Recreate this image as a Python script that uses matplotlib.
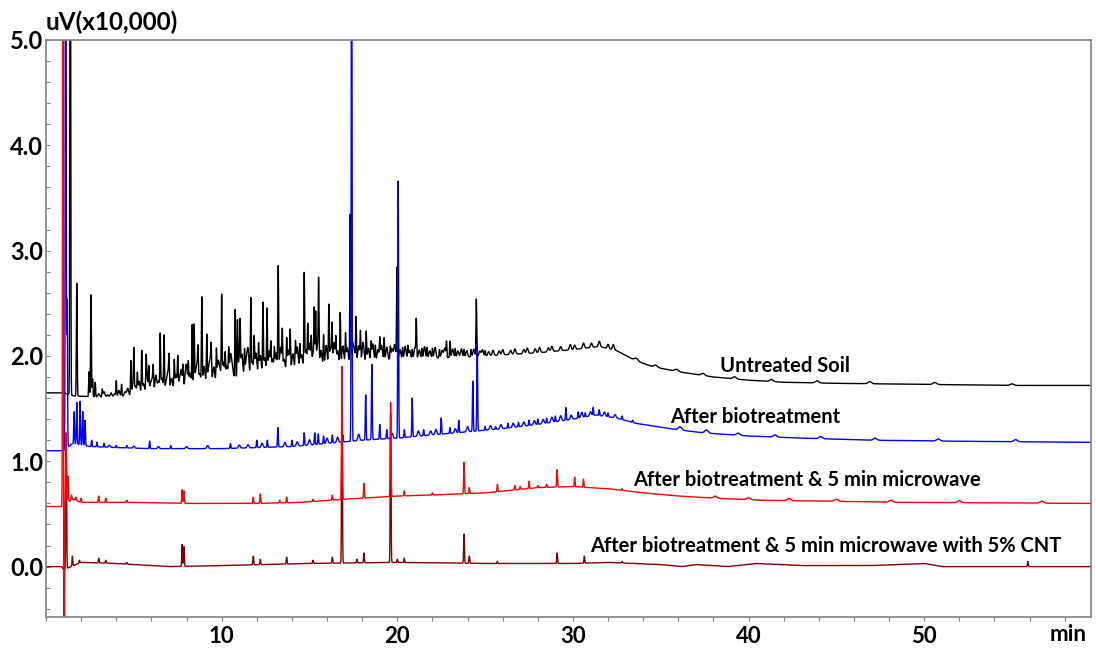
import numpy as np
import matplotlib
matplotlib.use('Agg')
import matplotlib.pyplot as plt
from matplotlib.ticker import MultipleLocator, FormatStrFormatter

plt.rcParams['font.family'] = ['Lato', 'DejaVu Sans']

# retention time grid (min)
t = np.linspace(0, 59.5, 11901)

# ---- Untreated Soil (black) ----
soil_base_t = [0, 1.0, 1.6, 3, 4, 5, 6, 8, 10, 12, 14, 16, 18, 20, 22, 24, 26, 28, 30,
               31.5, 32.5, 33.5, 34.5, 36, 38, 40, 42, 45, 50, 55, 59.5]
soil_base_v = [1.65, 1.65, 1.62, 1.61, 1.61, 1.63, 1.66, 1.71, 1.77, 1.83, 1.88, 1.92, 1.95,
               1.97, 1.98, 1.99, 2.01, 2.03, 2.06, 2.09, 2.05, 1.96, 1.90, 1.85, 1.80, 1.77,
               1.75, 1.74, 1.73, 1.72, 1.72]
soil_pk_t = [1.38, 1.75, 2.45, 2.56, 2.65, 2.8, 3.2, 4.0, 4.3, 4.83, 5.0, 5.2, 5.45, 5.7,
             5.85, 6.1, 6.5, 6.72, 7.0, 7.3, 7.5, 7.8, 8.1, 8.32, 8.43, 8.65, 8.87, 9.15,
             9.4, 9.7, 10.0, 10.2, 10.4, 10.77, 10.9, 11.05, 11.3, 11.66, 11.85, 12.1, 12.35,
             12.58, 12.8, 13.0, 13.22, 13.45, 13.7, 13.9, 14.2, 14.45, 14.7, 14.9, 15.1,
             15.27, 15.35, 15.52, 15.8, 16.1, 16.28, 16.5, 16.75, 17.05, 17.32, 17.65, 17.9,
             18.23, 18.5, 18.75, 19.0, 19.25, 19.6, 19.98, 20.3, 20.6, 20.85, 21.08, 21.4,
             21.7, 22.0, 22.4, 22.8, 23.0, 23.3, 23.8, 24.2, 24.5, 25.0]
soil_pk_v = [8.0, 2.69, 1.85, 2.58, 1.78, 1.75, 1.68, 1.76, 1.73, 1.95, 2.01, 1.82, 2.04, 1.93,
             1.88, 1.85, 2.19, 2.19, 1.93, 1.95, 1.98, 1.90, 1.92, 2.29, 2.27, 1.98, 2.55, 2.19,
             2.00, 2.05, 2.55, 2.00, 2.04, 2.44, 2.32, 2.22, 2.05, 2.53, 2.15, 2.10, 2.49,
             2.44, 2.10, 2.05, 2.84, 2.22, 2.15, 2.23, 2.12, 2.10, 2.77, 2.26, 2.15,
             2.42, 2.40, 2.67, 2.20, 2.47, 2.27, 2.15, 2.41, 2.20, 3.34, 2.36, 2.22,
             2.23, 2.12, 2.10, 2.15, 2.17, 2.08, 2.84, 2.08, 2.09, 2.06, 2.33, 2.07,
             2.08, 2.07, 2.06, 2.13, 2.14, 2.07, 2.06, 2.06, 2.54, 2.05]
soil_grass_t = [3.0, 3.3, 3.5, 3.7, 3.9, 4.15, 4.5, 4.65, 4.95, 5.1, 5.3, 5.55, 5.75, 5.95, 6.05,
                6.25, 6.4, 6.6, 6.85, 6.95, 7.15, 7.4, 7.6, 7.7, 7.95, 8.0, 8.2, 8.5, 8.6, 8.75,
                9.0, 9.25, 9.35, 9.55, 9.8, 9.9, 10.1, 10.3, 10.5, 10.6, 11.0, 11.15, 11.4, 11.5,
                11.75, 11.95, 12.2, 12.45, 12.7, 12.9, 13.1, 13.35, 13.55, 13.8, 14.05, 14.3,
                14.55, 14.8, 15.0, 15.2, 15.45, 15.65, 15.95, 16.2, 16.4, 16.6, 16.9, 17.15,
                17.45, 17.55, 17.8, 18.05, 18.35, 18.6, 18.9, 19.1, 19.4, 19.7, 19.85, 20.15,
                20.45, 20.7, 21.0, 21.25, 21.55, 21.85, 22.15, 22.55, 22.7, 23.15, 23.45, 23.65,
                23.95, 24.35, 24.7, 24.85, 25.2, 25.45, 25.8, 26.0, 26.45, 26.7, 27.2, 27.4,
                27.85, 28.1, 28.6, 28.8, 29.3, 29.85, 30.1, 30.6, 31.05, 31.5, 32.0, 32.3]
soil_grass_h = [.03, .05, .02, .04, .03, .06, .04, .07, .10, .08, .12, .09, .14, .07, .11,
                .15, .09, .12, .08, .15, .10, .13, .07, .16, .10, .14, .12, .09, .18, .10,
                .16, .12, .20, .14, .18, .10, .17, .13, .22, .12, .18, .21, .15, .24,
                .12, .20, .17, .14, .20, .12, .17, .22, .10, .18, .14, .20,
                .12, .16, .22, .12, .19, .14, .18, .15, .20, .12, .16, .14,
                .17, .10, .15, .18, .12, .16, .10, .14, .12, .10, .14, .09,
                .12, .08, .10, .08, .11, .07, .10, .07, .09, .08, .06, .08,
                .06, .07, .05, .06, .04, .05, .04, .05, .04, .05, .04, .05,
                .04, .05, .04, .05, .04, .05, .04, .05, .04, .05, .04, .05]
soil_bump_t = [33.6, 34.7, 35.9, 37.4, 39.2, 41.3, 43.9, 46.9, 50.6, 55.0]
soil_bump_h = [0.025, 0.02, 0.02, 0.02, 0.02, 0.02, 0.02, 0.02, 0.02, 0.015]

# ---- After biotreatment (blue) ----
bio_base_t = [0, 1.0, 1.5, 2.5, 4, 6, 8, 10, 12, 14, 16, 18, 20, 22, 24, 26, 28, 30, 31.3,
              32.5, 33.6, 35.5, 37.4, 40, 43, 47, 52, 59.5]
bio_base_v = [1.10, 1.10, 1.17, 1.14, 1.13, 1.12, 1.12, 1.12, 1.13, 1.14, 1.17, 1.20, 1.22,
              1.25, 1.28, 1.31, 1.35, 1.40, 1.44, 1.41, 1.36, 1.31, 1.27, 1.24, 1.22, 1.20,
              1.19, 1.18]
bio_pk_t = [1.12, 1.2, 1.6, 1.75, 1.94, 2.09, 2.22, 2.6, 2.9, 3.3, 4.0, 4.6, 5.9, 7.1, 10.5,
            12.0, 12.6, 13.2, 14.0, 14.7, 15.3, 15.5, 15.8, 16.3, 16.9, 17.4, 18.2, 18.55,
            19.0, 19.4, 20.05, 20.4, 20.85, 21.5, 22.5, 23.0, 23.5, 24.3, 24.55, 25.0, 25.6,
            26.3, 26.9, 27.5, 28.0, 28.5, 29.0, 29.6, 30.3, 30.7, 31.15, 31.5, 32.0, 32.8,
            33.4]
bio_pk_v = [9.0, 2.53, 1.47, 1.56, 1.57, 1.47, 1.39, 1.20, 1.18, 1.17, 1.15, 1.15, 1.19, 1.15,
            1.17, 1.20, 1.20, 1.32, 1.20, 1.27, 1.27, 1.26, 1.24, 1.25, 1.25, 7.0, 1.63, 1.92,
            1.35, 1.30, 3.66, 1.30, 1.60, 1.30, 1.41, 1.32, 1.39, 1.76, 2.12, 1.33, 1.33,
            1.36, 1.37, 1.39, 1.40, 1.41, 1.43, 1.51, 1.47, 1.46, 1.51, 1.49, 1.46, 1.43,
            1.39]
bio_grass_t = [3.6, 5.0, 6.4, 8.0, 9.2, 11.0, 11.5, 12.3, 13.6, 14.3, 15.0, 16.0, 16.6, 17.8,
               19.7, 21.2, 21.9, 22.2, 23.3, 24.0, 25.3, 25.9, 26.6, 27.2, 27.8, 28.3, 28.8,
               29.3, 29.9, 30.5, 31.0, 31.8, 32.4]
bio_grass_h = [.02, .02, .02, .02, .03, .03, .03, .04, .04, .04, .05, .05, .05, .06,
               .05, .05, .04, .05, .04, .05, .04, .04, .04, .04, .04, .04, .05,
               .05, .04, .05, .04, .04, .03]
bio_bump_t = [36.1, 37.6, 39.4, 41.5, 44.1, 47.2, 50.8, 55.2]
bio_bump_h = [0.03, 0.03, 0.02, 0.02, 0.02, 0.02, 0.02, 0.02]

# ---- After biotreatment & 5 min microwave (red) ----
mw_base_t = [0, 0.9, 1.5, 2, 5, 8, 10, 12, 14.5, 17, 20, 22, 25, 28, 30, 32, 34, 36, 38,
             40.7, 45, 48.7, 59.5]
mw_base_v = [0.57, 0.57, 0.64, 0.61, 0.61, 0.60, 0.60, 0.60, 0.61, 0.64, 0.67, 0.68, 0.70,
             0.75, 0.76, 0.74, 0.70, 0.67, 0.65, 0.63, 0.62, 0.61, 0.60]
mw_pk_t = [0.97, 1.02, 1.14, 1.25, 1.45, 1.7, 2.0, 3.0, 3.4, 4.6, 7.75, 7.85, 11.8, 12.2,
           13.3, 13.7, 15.2, 16.3, 16.85, 18.1, 19.62, 20.4, 22.0, 23.8, 24.1, 25.7, 26.7,
           27.0, 27.5, 28.0, 28.5, 29.1, 30.1, 30.6, 32.8]
mw_pk_v = [9.0, -3.0, 1.27, 0.86, 0.68, 0.66, 0.65, 0.67, 0.65, 0.63, 0.73, 0.72, 0.66, 0.69,
           0.63, 0.66, 0.64, 0.68, 1.90, 0.79, 1.56, 0.72, 0.70, 0.99, 0.75, 0.78, 0.77,
           0.76, 0.81, 0.77, 0.78, 0.92, 0.85, 0.83, 0.74]
mw_bump_t = [38.1, 40.0, 42.3, 45.0, 48.1, 52.0, 56.7]
mw_bump_h = [0.02, 0.02, 0.02, 0.02, 0.02, 0.02, 0.02]

# ---- After biotreatment & 5 min microwave with 5% CNT (dark red) ----
cnt_base_t = [0, 0.9, 1.0, 2, 4, 7, 10, 15, 20, 25, 30, 32, 35, 36.2, 37, 38.8, 40.4, 43,
              47, 50, 51, 55, 59.5]
cnt_base_v = [0.0, 0.0, -0.03, 0.04, 0.03, 0.0, 0.01, 0.03, 0.04, 0.03, 0.03, 0.04, 0.02,
              0.0, 0.02, 0.0, 0.03, 0.01, 0.01, 0.03, 0.0, 0.0, 0.0]
cnt_pk_t = [1.15, 1.5, 1.9, 3.0, 3.4, 4.6, 7.75, 7.85, 11.8, 12.2, 13.7, 15.2, 16.3, 16.85,
            17.7, 18.1, 19.62, 20.0, 20.4, 23.8, 24.1, 25.7, 29.1, 30.65, 32.8, 55.9]
cnt_pk_v = [1.2, 0.10, 0.06, 0.08, 0.06, 0.04, 0.21, 0.19, 0.10, 0.07, 0.09, 0.06, 0.09, 1.7,
            0.07, 0.13, 1.45, 0.07, 0.08, 0.31, 0.10, 0.05, 0.13, 0.10, 0.05, 0.05]

labels = ['Untreated Soil', 'After biotreatment', 'After biotreatment & 5 min microwave',
          'After biotreatment & 5 min microwave with 5% CNT']
label_t = [38.4, 35.55, 33.4, 31.0]
label_v = [1.90, 1.42, 0.82, 0.20]


def trace(base_t, base_v, pk_t, pk_v, grass_t=(), grass_h=(), bump_t=(), bump_h=()):
    y = np.interp(t, base_t, base_v)
    for tp, vp in zip(pk_t, pk_v):
        h = vp - np.interp(tp, base_t, base_v)
        y = y + h * np.exp(-0.5 * ((t - tp) / 0.022) ** 2)
    for tp, h in zip(grass_t, grass_h):
        y = y + h * np.exp(-0.5 * ((t - tp) / 0.05) ** 2)
    for tp, h in zip(bump_t, bump_h):
        y = y + h * np.exp(-0.5 * ((t - tp) / 0.1) ** 2)
    return y


soil = trace(soil_base_t, soil_base_v, soil_pk_t, soil_pk_v,
             soil_grass_t, soil_grass_h, soil_bump_t, soil_bump_h)
bio = trace(bio_base_t, bio_base_v, bio_pk_t, bio_pk_v,
            bio_grass_t, bio_grass_h, bio_bump_t, bio_bump_h)
mw = trace(mw_base_t, mw_base_v, mw_pk_t, mw_pk_v, bump_t=mw_bump_t, bump_h=mw_bump_h)
cnt = trace(cnt_base_t, cnt_base_v, cnt_pk_t, cnt_pk_v)

fig = plt.figure(figsize=(10.96, 6.49), dpi=100)
ax = fig.add_axes([0.042, 0.049, 0.9535, 0.8895])

ax.plot(t, soil, color='black', lw=1.0)
ax.plot(t, bio, color='#0000ff', lw=1.0)
ax.plot(t, cnt, color='#800000', lw=1.0)
ax.plot(t, mw, color='#ff0000', lw=1.0)

for txt, xt, yv in zip(labels, label_t, label_v):
    ax.text(xt, yv, txt, fontsize=14.5, fontweight='bold', va='center', ha='left')

ax.set_xlim(0, 59.5)
ax.set_ylim(-0.48, 5.0)
ax.xaxis.set_major_locator(MultipleLocator(10))
ax.xaxis.set_minor_locator(MultipleLocator(2))
ax.yaxis.set_major_locator(MultipleLocator(1))
ax.yaxis.set_minor_locator(MultipleLocator(0.2))
ax.yaxis.set_major_formatter(FormatStrFormatter('%.1f'))
ax.set_xticks([10, 20, 30, 40, 50])
ax.tick_params(axis='x', which='both', direction='out', length=3, width=0.8,
               color='#808080', labelsize=16, pad=3)
ax.tick_params(axis='y', which='both', direction='in', length=3, width=0.8,
               color='#808080', labelsize=17, pad=2)
for lab in ax.get_xticklabels() + ax.get_yticklabels():
    lab.set_fontweight('bold')
for sp in ax.spines.values():
    sp.set_color('#808080')
    sp.set_linewidth(1.2)

ax.annotate('min', xy=(1, 0), xycoords='axes fraction', xytext=(-3, -5.2),
            textcoords='offset points', ha='right', va='top', fontsize=16, fontweight='bold')
fig.text(0.042, 0.965, 'uV(x10,000)', fontsize=17.5, fontweight='bold', ha='left', va='center')

fig.savefig('out.png', dpi=100)
